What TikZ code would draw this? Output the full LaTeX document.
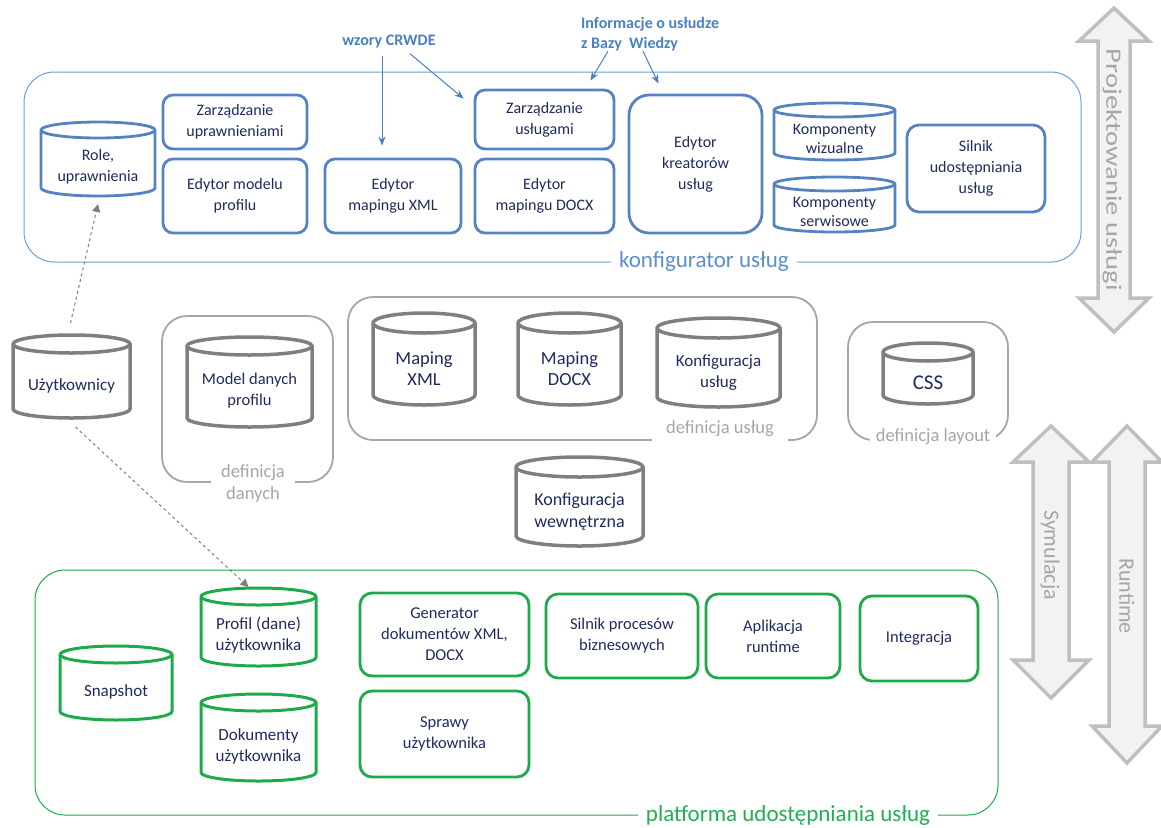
\documentclass[tikz,border=0pt]{standalone}
\usepackage{fontspec}
\setmainfont{Carlito}
\usetikzlibrary{arrows.meta}
\definecolor{blline}{HTML}{5582C0}
\definecolor{blcont}{HTML}{6E9CD4}
\definecolor{bltxt}{HTML}{5B8FCF}
\definecolor{blann}{HTML}{4A80C4}
\definecolor{navy}{HTML}{1F2A5E}
\definecolor{grl}{HTML}{1DAA4A}
\definecolor{grtxt}{HTML}{22B04F}
\definecolor{gycyl}{HTML}{7F7F7F}
\definecolor{gygrp}{HTML}{A6A6A6}
\definecolor{arrfill}{HTML}{F2F2F2}
\definecolor{arrline}{HTML}{BFBFBF}
\tikzset{
  txt/.style={font=\fontsize{16}{21}\selectfont, text=navy, align=center, inner sep=0pt},
  bbox/.style={draw=blline, line width=2.8pt, rounded corners=10pt, txt},
  gbox/.style={draw=grl, line width=2.8pt, rounded corners=12pt, txt, font=\fontsize{16.5}{21}\selectfont},
  bcylst/.style={draw=blline, line width=2.8pt},
  gycylst/.style={draw=gycyl, line width=3.5pt},
  gcylst/.style={draw=grl, line width=3pt},
  grouplbl/.style={font=\fontsize{18.5}{22}\selectfont, text=gygrp, fill=white, align=center},
  groupbox/.style={draw=gygrp, line width=1.8pt, rounded corners=25pt},
  annot/.style={font=\bfseries\fontsize{16}{20}\selectfont, text=blann, align=left, inner sep=1pt},
  annarrow/.style={draw=blann, line width=1pt, -{Stealth[length=9pt,width=7pt]}},
  dasharrow/.style={draw=gycyl, line width=1pt, dashed, -{Triangle[length=8pt,width=8pt]}},
  bigarrow/.style={fill=arrfill, draw=arrline, line width=3.5pt, line join=miter},
  arrlbl/.style={font=\fontsize{22}{24}\selectfont, text=gygrp, rotate=-90}
}
% rounded box node: name x1 y1 x2 y2 style text
\newcommand\rbox[7]{%
  \pgfmathsetmacro\rbw{#4-#2}\pgfmathsetmacro\rbh{#5-#3}%
  \pgfmathsetmacro\rbx{(#2+#4)/2}\pgfmathsetmacro\rby{-(#3+#5)/2}%
  \node[#6,minimum width=\rbw pt,minimum height=\rbh pt] (#1) at (\rbx,\rby) {#7};}
% cylinder: name x1 y1 x2 y2 e drawstyle nodeopts text
\newcommand\cyl[9]{%
  \pgfmathsetmacro\cya{(#2+#4)/2}%
  \pgfmathsetmacro\cyr{(#4-#2)/2}%
  \pgfmathsetmacro\cyt{-#3-#6}%
  \pgfmathsetmacro\cyb{-#5+#6}%
  \pgfmathsetmacro\cym{-(#3+2*#6+#5)/2}%
  \draw[#7] (#2,\cyt) -- (#2,\cyb) arc[start angle=180,end angle=360,x radius=\cyr pt,y radius=#6pt] -- (#4,\cyt) arc[start angle=0,end angle=180,x radius=\cyr pt,y radius=#6pt] -- cycle;
  \draw[#7] (#2,\cyt) arc[start angle=180,end angle=360,x radius=\cyr pt,y radius=#6pt];
  \node[txt,#8] (#1) at (\cya,\cym) {#9};
  \coordinate (#1 top) at (\cya,-#3);
  \coordinate (#1 bot) at (\cya,-#5);}
% double arrow: cx top base1 base2 bottom headhalf shafthalf
\newcommand\dblarrow[7]{%
  \path[bigarrow] (#1,-#2) -- ({#1+#6},-#3) -- ({#1+#7},-#3) -- ({#1+#7},-#4) -- ({#1+#6},-#4) -- (#1,-#5)
    -- ({#1-#6},-#4) -- ({#1-#7},-#4) -- ({#1-#7},-#3) -- ({#1-#6},-#3) -- cycle;}
\begin{document}
\begin{tikzpicture}[x=1pt,y=1pt]
\useasboundingbox (0,0) rectangle (1161,-827);

% ===== right double arrows =====
\dblarrow{1114}{8}{41}{298}{332}{35}{16}
\node[arrlbl, xscale=1.3] (projLbl) at (1112,-170) {Projektowanie usługi};
\dblarrow{1127}{426}{462}{726}{763}{35}{18}
\node[arrlbl] (runLbl) at (1127,-596) {Runtime};
\dblarrow{1051}{426}{462}{660}{698}{38}{18}
\node[arrlbl] (symLbl) at (1050,-555) {Symulacja};

% ===== top container =====
\draw[draw=blcont, line width=1pt, rounded corners=30pt] (24,-72) rectangle (1081,-262);
\node[font=\fontsize{23}{26}\selectfont, text=bltxt, fill=white, inner xsep=8pt, inner ysep=1pt] (konfLbl) at (704,-261) {konfigurator usług};

\cyl{roleCyl}{41}{122}{155}{196}{8}{bcylst}{}{Role,\\uprawnienia}
\rbox{zarzUpr}{163}{95}{307}{149}{bbox}{Zarządzanie\\uprawnieniami}
\rbox{edModel}{163}{159}{307}{233}{bbox}{Edytor modelu\\profilu}
\rbox{edXML}{325}{159}{461}{233}{bbox}{Edytor\\mapingu XML}
\rbox{zarzUsl}{475}{90}{614}{149}{bbox}{Zarządzanie\\usługami}
\rbox{edDOCX}{475}{159}{614}{233}{bbox}{Edytor\\mapingu DOCX}
\rbox{edKreat}{629}{95}{762}{233}{bbox,rounded corners=20pt}{Edytor\\kreatorów\\usług}
\cyl{kompWiz}{774}{103}{895}{160}{7}{bcylst}{font=\fontsize{16}{19}\selectfont}{Komponenty\\wizualne}
\cyl{kompSerw}{774}{177}{895}{232}{7}{bcylst}{font=\fontsize{16}{19}\selectfont}{Komponenty\\serwisowe}
\rbox{silnikUd}{907}{125}{1045}{212}{bbox,rounded corners=12pt}{Silnik\\udostępniania\\usług}

% annotations
\node[annot] (crwde) at (389,-42) {wzory CRWDE};
\node[annot, anchor=north west] (info) at (580,-16) {Informacje o usłudze\\z Bazy\ \ Wiedzy};
\draw[annarrow] ([xshift=-7pt,yshift=-6pt]crwde.south) -- ([xshift=-11pt,yshift=12pt]edXML.north);
\draw[annarrow] ([xshift=21pt,yshift=-4pt]crwde.south) -- ([xshift=-10pt,yshift=-10pt]zarzUsl.north west);
\draw[annarrow] ([xshift=28pt,yshift=1pt]info.south west) -- ([xshift=46pt,yshift=8pt]zarzUsl.north);
\draw[annarrow] ([xshift=63pt,yshift=1pt]info.south west) -- ([xshift=-37pt,yshift=10pt]edKreat.north);

% ===== middle gray section =====
\draw[groupbox] (162,-316) rectangle (333,-482);
\node[grouplbl, inner xsep=10pt] (defDanLbl) at (253,-484) {definicja\\danych};
\draw[groupbox] (348,-297) rectangle (817,-440);
\node[grouplbl, inner xsep=14pt, inner ysep=6pt] (defUslLbl) at (720,-429) {definicja usług};
\draw[groupbox] (848,-322) rectangle (1008,-440);
\node[grouplbl, inner xsep=6pt, inner ysep=3pt] (defLayLbl) at (933,-437) {definicja layout};

\cyl{uzyt}{13}{335}{130}{418}{9}{gycylst}{font=\fontsize{17}{21}\selectfont}{Użytkownicy}
\cyl{modelDan}{187}{337}{312}{427}{9}{gycylst}{font=\fontsize{16.5}{21}\selectfont}{Model danych\\profilu}
\cyl{mapXML}{373}{313}{475}{405}{10}{gycylst}{font=\fontsize{18.5}{21}\selectfont}{Maping\\XML}
\cyl{mapDOCX}{518}{313}{621}{405}{10}{gycylst}{font=\fontsize{18.5}{21}\selectfont}{Maping\\DOCX}
\cyl{konfUsl}{657}{318}{780}{407}{10}{gycylst}{font=\fontsize{17}{21}\selectfont}{Konfiguracja\\usług}
\cyl{css}{883}{343}{973}{404}{9}{gycylst}{font=\fontsize{21}{22}\selectfont}{CSS}
\cyl{konfWewn}{516}{457}{643}{546}{10}{gycylst}{font=\fontsize{18}{22}\selectfont}{Konfiguracja\\wewnętrzna}

% ===== bottom green container =====
\draw[draw=grl, line width=1pt, rounded corners=30pt] (35,-570) rectangle (998,-815);
\node[font=\fontsize{23}{26}\selectfont, text=grtxt, fill=white, inner xsep=8pt, inner ysep=1pt] (platLbl) at (788,-815) {platforma udostępniania usług};

\cyl{profil}{201}{588}{316}{666}{8.5}{gcylst}{font=\fontsize{17}{21}\selectfont}{Profil (dane)\\użytkownika}
\cyl{snapshot}{60}{646}{172}{720}{8.5}{gcylst}{font=\fontsize{17}{21}\selectfont}{Snapshot}
\cyl{dokumenty}{201}{694}{316}{781}{8.5}{gcylst}{font=\fontsize{17}{21}\selectfont}{Dokumenty\\użytkownika}
\rbox{generator}{360}{593}{529}{676}{gbox}{Generator\\dokumentów XML,\\DOCX}
\rbox{sprawy}{360}{691}{529}{777}{gbox}{Sprawy\\użytkownika}
\rbox{silnikProc}{546}{594}{698}{678}{gbox}{Silnik procesów\\biznesowych}
\rbox{aplikacja}{706}{594}{840}{678}{gbox}{Aplikacja\\runtime}
\rbox{integracja}{860}{596}{978}{681}{gbox}{Integracja}

% dashed connectors
\draw[dasharrow] ([xshift=-1pt,yshift=12pt]uzyt top) -- ([yshift=-8pt]roleCyl bot);
\draw[dasharrow] ([xshift=4pt,yshift=-9pt]uzyt bot) -- ([xshift=-10pt,yshift=1pt]profil top);
\end{tikzpicture}
\end{document}
